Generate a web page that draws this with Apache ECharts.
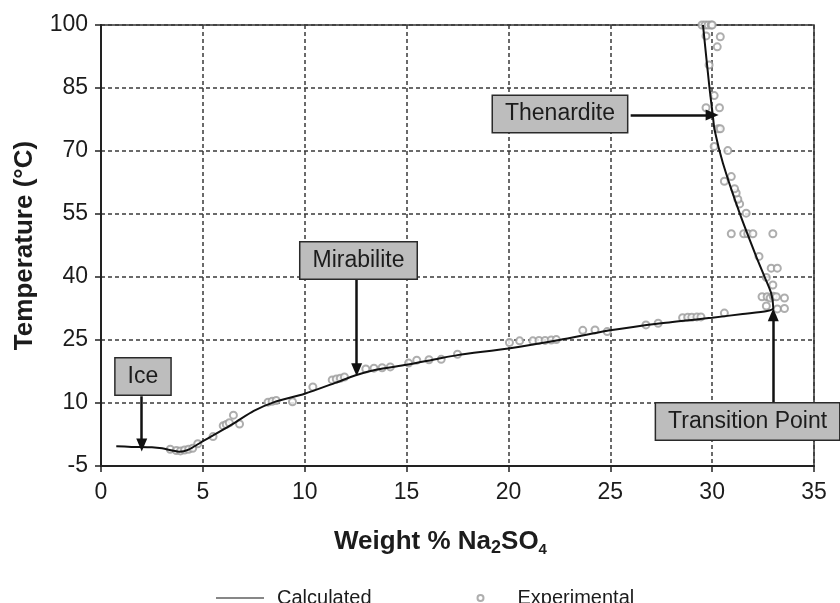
<!DOCTYPE html>
<html>
<head>
<meta charset="utf-8">
<title>Na2SO4 - H2O phase diagram</title>
<script src="https://cdn.jsdelivr.net/npm/echarts@6/dist/echarts.min.js"></script>
<style>
  html, body { margin: 0; padding: 0; background: #fff; }
  #chart { width: 840px; height: 603px; }
</style>
</head>
<body>
<div id="chart"></div>
<script>
// Axis ranges and ticks
const xTicks = { min: 0, max: 35, step: 5 };
const yTicks = { min: -5, max: 100, step: 15 };

// Model curve: ice line, eutectic, mirabilite line up to the transition point,
// then the thenardite line back up to 100 °C  [wt% Na2SO4, °C]
const calculated = [
  [0.75, -0.3], [1.5, -0.45], [2.5, -0.55], [3.0, -0.8], [3.5, -1.3], [3.85, -1.6],
  [4.3, -1.1], [4.8, 0.3], [5.0, 0.9], [5.5, 2.3], [6.5, 5.1], [7.5, 8.1],
  [8.5, 10.2], [10.0, 12.2], [11.5, 14.8], [12.5, 16.6], [13.5, 17.9], [15.0, 19.1],
  [16.5, 20.5], [17.5, 21.4], [20.0, 23.0], [22.5, 25.0], [25.0, 27.3], [27.5, 29.0],
  [30.0, 30.3], [31.5, 31.2], [32.7, 31.9], [33.0, 32.6],
  [32.9, 36.1], [32.57, 40.1], [32.17, 44.8], [31.35, 55.2], [30.53, 67.1],
  [30.12, 75.0], [30.03, 78.6], [29.87, 85.0], [29.55, 100.0]
];

// Measured solubility points  [wt% Na2SO4, °C]
const experimental = [
  [3.4, -1.0], [3.7, -1.3], [3.9, -1.4], [4.1, -1.2], [4.3, -1.0], [4.5, -0.8], [4.75, 0.3],
  [5.5, 2.0], [6.0, 4.6], [6.15, 4.9], [6.3, 5.3], [6.5, 7.1], [6.8, 5.0],
  [8.2, 10.2], [8.4, 10.4], [8.6, 10.6], [9.4, 10.3], [10.4, 13.8],
  [11.35, 15.5], [11.55, 15.7], [11.75, 15.9], [11.95, 16.2],
  [13.0, 18.1], [13.4, 18.3], [13.8, 18.4], [14.2, 18.6], [15.1, 19.5],
  [15.5, 20.2], [16.1, 20.3], [16.7, 20.4], [17.5, 21.6],
  [20.05, 24.4], [20.55, 24.8], [21.2, 24.8], [21.5, 24.9], [21.8, 24.9], [22.1, 25.0], [22.35, 25.1],
  [23.65, 27.3], [24.25, 27.4], [24.85, 27.0],
  [26.75, 28.6], [27.35, 29.0],
  [28.55, 30.3], [28.8, 30.4], [29.0, 30.4], [29.25, 30.5], [29.45, 30.5],
  [30.6, 31.4],
  [32.66, 33.1], [33.2, 32.4], [33.55, 32.5],
  [32.45, 35.3], [32.7, 35.3], [32.85, 35.0], [33.0, 35.4], [33.15, 35.3], [33.55, 35.0],
  [32.98, 38.1], [32.66, 39.9], [32.9, 42.1], [33.2, 42.1],
  [32.3, 44.9],
  [30.94, 50.3], [31.55, 50.3], [31.75, 50.3], [32.0, 50.3], [32.98, 50.3],
  [31.67, 55.2], [31.35, 57.4], [31.26, 58.5], [31.18, 60.0], [31.1, 61.0], [30.94, 63.9], [30.6, 62.8],
  [30.1, 71.1], [30.77, 70.1],
  [30.3, 75.3], [30.4, 75.3],
  [29.7, 80.3], [30.36, 80.3], [30.1, 83.2],
  [29.85, 90.5], [30.25, 94.8], [30.4, 97.2], [29.7, 97.4],
  [29.5, 100], [29.65, 100], [29.8, 100], [29.95, 100], [30.0, 100]
];

// Phase-field callouts: label, box centre and arrow (from -> to), in data units
const calloutNames = ['Ice', 'Mirabilite', 'Thenardite', 'Transition Point'];
const calloutBoxes = [[2.06, 16.3], [12.64, 43.9], [22.53, 78.8], [31.74, 5.6]];
const calloutArrows = [
  [[2.0, 11.6], [2.0, 0.0]],
  [[12.55, 39.3], [12.55, 17.9]],
  [[26.0, 78.6], [30.0, 78.6]],
  [[33.0, 10.2], [33.0, 31.0]]
];

const FONT = '"Liberation Sans", Arial, Helvetica, sans-serif';
const INK = '#1c1c1c';

const chart = echarts.init(document.getElementById('chart'), null, { renderer: 'canvas' });

const gridLine = { show: true, lineStyle: { color: '#3a3a3a', width: 1.5, type: [4, 3] } };

chart.setOption({
  backgroundColor: '#ffffff',
  animation: false,
  textStyle: { fontFamily: FONT },
  grid: {
    left: 101, right: 26, top: 25, bottom: 137,
    show: true, borderColor: '#333', borderWidth: 1.5, backgroundColor: 'transparent'
  },
  legend: {
    left: 211, top: 583,
    itemWidth: 48, itemHeight: 6, itemGap: 105,
    textStyle: { fontFamily: FONT, fontSize: 20, color: INK, padding: [0, 0, 0, 8] },
    data: [
      { name: 'Calculated', icon: 'path://M0,0 L48,0 L48,1 L0,1 Z' },
      { name: 'Experimental', icon: 'emptyCircle' }
    ]
  },
  xAxis: {
    type: 'value',
    min: xTicks.min, max: xTicks.max, interval: xTicks.step,
    name: 'Weight % Na{sub|2}SO{sub4|4}',
    nameLocation: 'middle', nameGap: 61,
    nameTextStyle: {
      fontFamily: FONT, fontSize: 26, fontWeight: 'bold', color: INK,
      lineHeight: 30, padding: [0, 34, 0, 0],
      rich: {
        sub: { fontFamily: FONT, fontSize: 18, fontWeight: 'bold', color: INK, verticalAlign: 'bottom', lineHeight: 17 },
        sub4: { fontFamily: FONT, fontSize: 15, fontWeight: 'bold', color: INK, verticalAlign: 'bottom', lineHeight: 15 }
      }
    },
    axisLine: { show: true, onZero: false, lineStyle: { color: '#222', width: 2 } },
    axisTick: { show: true, inside: false, length: 6, lineStyle: { color: '#222', width: 1.5 } },
    axisLabel: { fontFamily: FONT, fontSize: 23, color: INK, margin: 15 },
    splitLine: gridLine
  },
  yAxis: {
    type: 'value',
    min: yTicks.min, max: yTicks.max, interval: yTicks.step,
    name: 'Temperature (°C)',
    nameLocation: 'middle', nameGap: 63,
    nameTextStyle: { fontFamily: FONT, fontSize: 26, fontWeight: 'bold', color: INK },
    axisLine: { show: true, onZero: false, lineStyle: { color: '#222', width: 2 } },
    axisTick: { show: true, inside: false, length: 6, lineStyle: { color: '#222', width: 1.5 } },
    axisLabel: { fontFamily: FONT, fontSize: 23, color: INK, margin: 13 },
    splitLine: gridLine
  },
  series: [
    {
      name: 'Calculated',
      type: 'line',
      data: calculated,
      showSymbol: false,
      symbol: 'none',
      smooth: 0.25,
      lineStyle: { color: '#111', width: 2 },
      itemStyle: { color: '#111' },
      z: 3,
      markLine: {
        silent: true,
        symbol: ['none', 'triangle'],
        symbolSize: [11, 13],
        label: { show: false },
        lineStyle: { color: '#111', width: 2.5, type: 'solid' },
        data: calloutArrows.map(a => [{ coord: a[0] }, { coord: a[1] }]),
        z: 5
      },
      markPoint: {
        silent: true,
        symbol: 'rect',
        symbolSize: 0,
        label: {
          show: true,
          position: 'inside',
          fontFamily: FONT,
          fontSize: 23,
          color: INK,
          backgroundColor: '#bdbdbd',
          borderColor: '#2a2a2a',
          borderWidth: 1.5,
          padding: [7, 12, 6, 12],
          formatter: p => p.name
        },
        data: calloutNames.map((n, i) => ({ name: n, coord: calloutBoxes[i] })),
        z: 6
      }
    },
    {
      name: 'Experimental',
      type: 'scatter',
      data: experimental,
      symbol: 'emptyCircle',
      symbolSize: 7,
      itemStyle: { color: '#9a9a9a', borderColor: '#9a9a9a', borderWidth: 1.2 },
      z: 2
    }
  ]
});
</script>
</body>
</html>
